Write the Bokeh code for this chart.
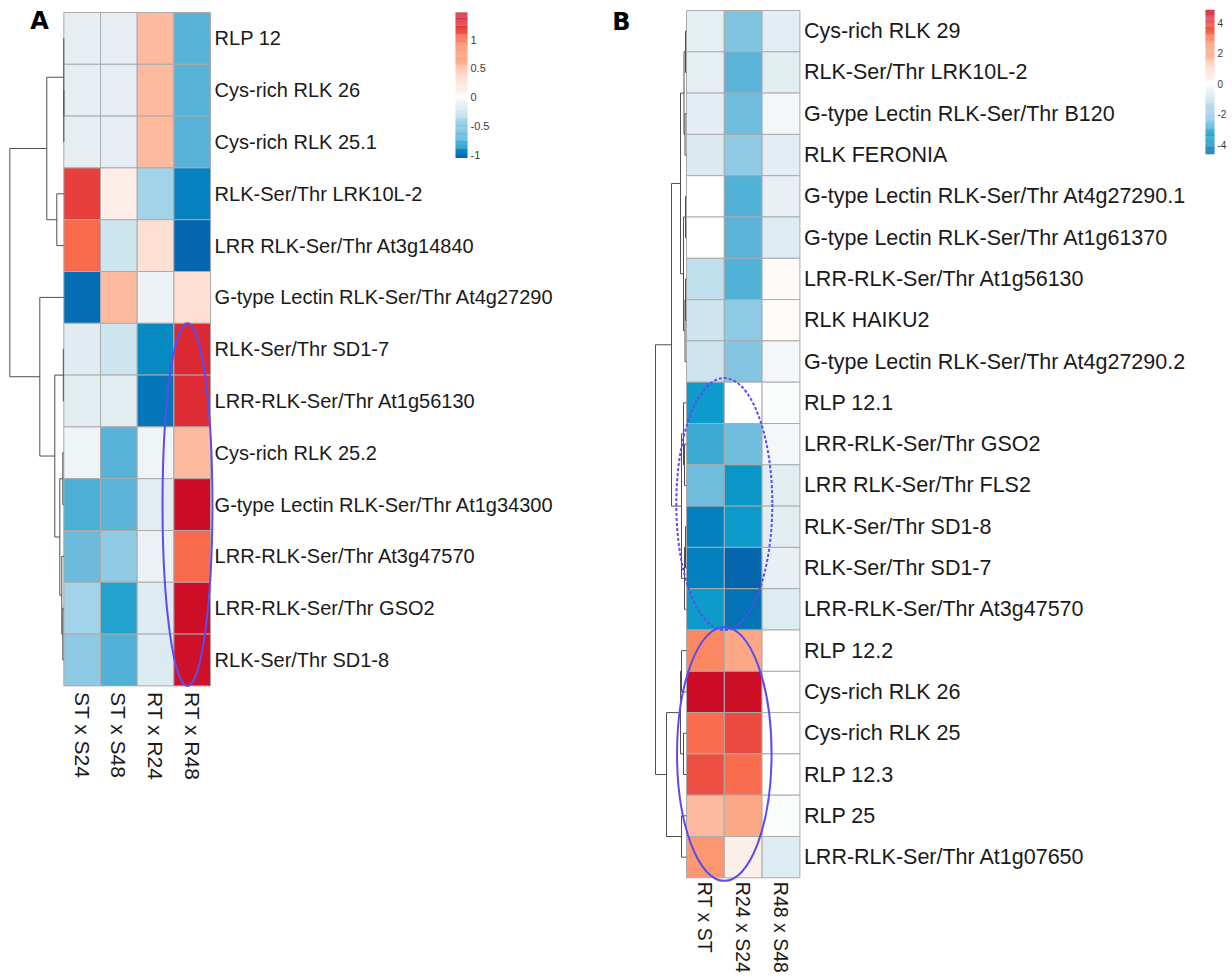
import numpy as np
from bokeh.plotting import figure
from bokeh.models import Range1d, ColumnDataSource, LinearColorMapper
from bokeh.layouts import row
from bokeh.embed import file_html
from bokeh.resources import INLINE
from bokeh.core.properties import value
from bokeh.transform import transform

# ---------------- Panel A data ----------------
genes_a = ["RLP 12", "Cys-rich RLK 26", "Cys-rich RLK 25.1", "RLK-Ser/Thr LRK10L-2",
           "LRR RLK-Ser/Thr At3g14840", "G-type Lectin RLK-Ser/Thr At4g27290",
           "RLK-Ser/Thr SD1-7", "LRR-RLK-Ser/Thr At1g56130", "Cys-rich RLK 25.2",
           "G-type Lectin RLK-Ser/Thr At1g34300", "LRR-RLK-Ser/Thr At3g47570",
           "LRR-RLK-Ser/Thr GSO2", "RLK-Ser/Thr SD1-8"]
samples_a = ["ST x S24", "ST x S48", "RT x R24", "RT x R48"]
a_st_s24 = [-0.10, -0.10, -0.10, 1.21, 0.99, -1.02, -0.13, -0.12, -0.06, -0.68, -0.58, -0.42, -0.50]
a_st_s48 = [-0.10, -0.10, -0.10, 0.12, -0.23, 0.51, -0.23, -0.12, -0.63, -0.62, -0.49, -0.79, -0.66]
a_rt_r24 = [0.51, 0.51, 0.51, -0.42, 0.29, -0.08, -0.92, -0.99, -0.06, -0.12, -0.08, -0.14, -0.15]
a_rt_r48 = [-0.63, -0.63, -0.63, -0.95, -1.05, 0.29, 1.31, 1.29, 0.51, 1.46, 0.99, 1.45, 1.44]
# row dendrogram: (left node, right node, merge height); leaves 0..12, merged nodes from 13
links_a = [(1, 2, 0), (0, 13, 0), (3, 4, 7), (14, 15, 17), (6, 7, 0.5), (8, 9, 1),
           (11, 12, 1), (10, 19, 2), (18, 20, 4), (17, 21, 9), (5, 22, 24), (16, 23, 54)]
ticks_a = [-1, -0.5, 0, 0.5, 1]

# ---------------- Panel B data ----------------
genes_b = ["Cys-rich RLK 29", "RLK-Ser/Thr LRK10L-2", "G-type Lectin RLK-Ser/Thr B120",
           "RLK FERONIA", "G-type Lectin RLK-Ser/Thr At4g27290.1",
           "G-type Lectin RLK-Ser/Thr At1g61370", "LRR-RLK-Ser/Thr At1g56130", "RLK HAIKU2",
           "G-type Lectin RLK-Ser/Thr At4g27290.2", "RLP 12.1", "LRR-RLK-Ser/Thr GSO2",
           "LRR RLK-Ser/Thr FLS2", "RLK-Ser/Thr SD1-8", "RLK-Ser/Thr SD1-7",
           "LRR-RLK-Ser/Thr At3g47570", "RLP 12.2", "Cys-rich RLK 26", "Cys-rich RLK 25",
           "RLP 12.3", "RLP 25", "LRR-RLK-Ser/Thr At1g07650"]
samples_b = ["RT x ST", "R24 x S24", "R48 x S48"]
b_rt_st = [-0.46, -0.46, -0.50, -0.69, 0.0, 0.0, -1.24, -1.00, -1.00, -3.68, -3.22, -2.53,
           -4.19, -4.19, -3.68, 2.80, 4.80, 3.20, 3.75, 1.68, 2.50]
b_r24_s24 = [-2.35, -2.76, -2.53, -2.16, -2.90, -2.76, -2.90, -2.16, -2.30, 0.0, -2.53, -3.77,
             -3.68, -4.60, -4.37, 2.16, 4.75, 3.84, 3.20, 2.16, 0.38]
b_r48_s48 = [-0.50, -0.55, -0.20, -0.50, -0.40, -0.65, 0.10, 0.08, -0.20, -0.05, -0.20, -0.55,
             -0.55, -0.40, -0.65, 0.0, 0.0, 0.0, 0.0, -0.05, -0.65]
links_b = [(0, 1, 1), (2, 3, 1.5), (21, 22, 2.5), (4, 5, 1), (6, 7, 1), (25, 8, 1.5),
           (24, 26, 3), (23, 27, 6), (10, 11, 2), (9, 29, 3), (12, 13, 1), (31, 14, 2),
           (30, 32, 5), (28, 33, 15), (15, 16, 5), (17, 18, 3), (35, 36, 6), (19, 20, 5),
           (37, 38, 20), (34, 39, 31)]
ticks_b = [-4, -2, 0, 2, 4]

# ---------------- colours ----------------
NEG = [(0.0, "#FFFFFF"), (0.1, "#E6EEF3"), (0.22, "#CDE5EF"), (0.4, "#A3D3E8"),
       (0.5, "#86C6E2"), (0.6, "#5BB4D8"), (0.7, "#3FABD4"), (0.8, "#0D9BCB"),
       (0.9, "#0584C0"), (1.0, "#0566AE")]
POS = [(0.0, "#FFFFFF"), (0.08, "#FCEEE8"), (0.2, "#FEE0D2"), (0.35, "#FDBBA0"),
       (0.45, "#FCA886"), (0.58, "#FC8A62"), (0.68, "#F96A4C"), (0.8, "#EB4A40"),
       (0.9, "#DC2832"), (1.0, "#CC0C26")]


def _hex(c):
    return np.array([int(c[i:i + 2], 16) for i in (1, 3, 5)], dtype=float)


def _interp(stops, t):
    t = min(max(t, 0.0), 1.0)
    for (t0, c0), (t1, c1) in zip(stops[:-1], stops[1:]):
        if t <= t1:
            f = 0 if t1 == t0 else (t - t0) / (t1 - t0)
            rgb = _hex(c0) * (1 - f) + _hex(c1) * f
            return "#%02x%02x%02x" % tuple(int(round(x)) for x in rgb)
    return stops[-1][1]


def color_at(v, lo, hi):
    if v < 0:
        return _interp(NEG, v / lo)
    return _interp(POS, v / hi)


ELL = "#5A4CF0"
H = 979


def build_panel(fig_w, hm_left, hm_top, cw, rh, genes, samples, columns, links, ticks,
                cb_left, cb_w, cb_zero, cb_ppu, letter, letter_xy, row_fs, col_fs, tick_fs,
                col_gap, ellipses):
    n, m = len(genes), len(samples)
    p = figure(width=fig_w, height=H,
               x_range=Range1d(-hm_left / cw, (fig_w - hm_left) / cw),
               y_range=Range1d((H - hm_top) / rh, -hm_top / rh),
               output_backend="svg", toolbar_location=None,
               x_axis_location=None, y_axis_location=None, min_border=0,
               outline_line_color=None, background_fill_color="white",
               border_fill_color="white")
    p.grid.visible = False
    p.extra_x_ranges = {"px": Range1d(0, fig_w)}
    p.extra_y_ranges = {"py": Range1d(H, 0),
                        "cb": Range1d(-(H - cb_zero) / cb_ppu, cb_zero / cb_ppu)}

    vals = np.array(columns, dtype=float).T
    lo, hi = float(vals.min()), float(vals.max())
    palette = [color_at(v, lo, hi) for v in np.linspace(lo, hi, 256)]
    mapper = LinearColorMapper(palette=palette, low=lo, high=hi)

    xs, ys, vs = [], [], []
    for i in range(n):
        for j in range(m):
            xs.append(j + 0.5)
            ys.append(i + 0.5)
            vs.append(vals[i, j])
    src = ColumnDataSource(dict(x=xs, y=ys, v=vs))
    p.rect(x="x", y="y", width=1, height=1, source=src,
           fill_color=transform("v", mapper), line_color="#ABABAB", line_width=1)

    # dendrogram
    pos = {i: i + 0.5 for i in range(n)}
    hgt = {i: 0.0 for i in range(n)}
    x0, y0, x1, y1 = [], [], [], []
    for k, (a, b, h) in enumerate(links):
        node = n + k
        xh = -h / cw
        x0 += [xh, xh, xh]
        y0 += [pos[a], pos[a], pos[b]]
        x1 += [xh, -hgt[a] / cw, -hgt[b] / cw]
        y1 += [pos[b], pos[a], pos[b]]
        pos[node] = (pos[a] + pos[b]) / 2
        hgt[node] = h
    p.segment(x0=x0, y0=y0, x1=x1, y1=y1, line_color="#4F4F4F", line_width=1)

    # labels
    p.text(x=[m + 4 / cw] * n, y=[i + 0.5 for i in range(n)], text=genes,
           text_font=value("Liberation Sans"), text_font_size=f"{row_fs}px",
           text_baseline="middle", text_align="left", text_color="#1A1A1A")
    p.text(x=[j + 0.5 for j in range(m)], y=[n + col_gap / rh] * m, text=samples,
           angle=-np.pi / 2, text_font=value("Liberation Sans"),
           text_font_size=f"{col_fs}px", text_baseline="middle", text_align="left",
           text_color="#1A1A1A")

    # colour bar
    cbv = np.linspace(lo, hi, 150)
    step = (hi - lo) / 149
    cbsrc = ColumnDataSource(dict(x=[cb_left + cb_w / 2] * len(cbv), y=list(cbv), v=list(cbv)))
    p.rect(x="x", y="y", width=cb_w, height=step * 1.05, source=cbsrc,
           fill_color=transform("v", mapper), line_color=None,
           x_range_name="px", y_range_name="cb")
    p.text(x=[cb_left + cb_w + 3] * len(ticks), y=ticks, text=[f"{t:g}" for t in ticks],
           x_range_name="px", y_range_name="cb",
           text_font=value("Liberation Sans"), text_font_size=f"{tick_fs}px",
           text_baseline="middle", text_align="left", text_color="#3A3A3A")

    # panel letter
    p.text(x=[letter_xy[0]], y=[letter_xy[1]], text=[letter], x_range_name="px",
           y_range_name="py", text_font=value("DejaVu Sans"), text_font_style="bold",
           text_font_size="24px", text_baseline="middle", text_align="center",
           text_color="black")

    for (ex, ey, ew, eh, dash) in ellipses:
        p.ellipse(x=[ex], y=[ey], width=[ew], height=[eh], fill_color=None,
                  line_color=ELL, line_width=2, line_dash=dash)
    return p


pA = build_panel(600, 63.3, 12, 36.7, 51.8, genes_a, samples_a,
                 [a_st_s24, a_st_s48, a_rt_r24, a_rt_r48], links_a, ticks_a,
                 455, 12, 96.5, 57.5, "A", (39, 20), 20, 21, 11, 6,
                 [(3.37, 9.5, 1.36, 7.0, "solid")])

pB = build_panel(632, 86, 10, 37.8, 41.3, genes_b, samples_b,
                 [b_rt_st, b_r24_s24, b_r48_s48], links_b, ticks_b,
                 605, 9, 83, 15.25, "B", (21, 21), 21.5, 19.5, 10, 4,
                 [(1.0, 11.95, 2.54, 6.1, "3 2"), (1.0, 18.0, 2.5, 6.15, "solid")])

layout = row(pA, pB)
open("out.html", "w").write(file_html(layout, INLINE))
